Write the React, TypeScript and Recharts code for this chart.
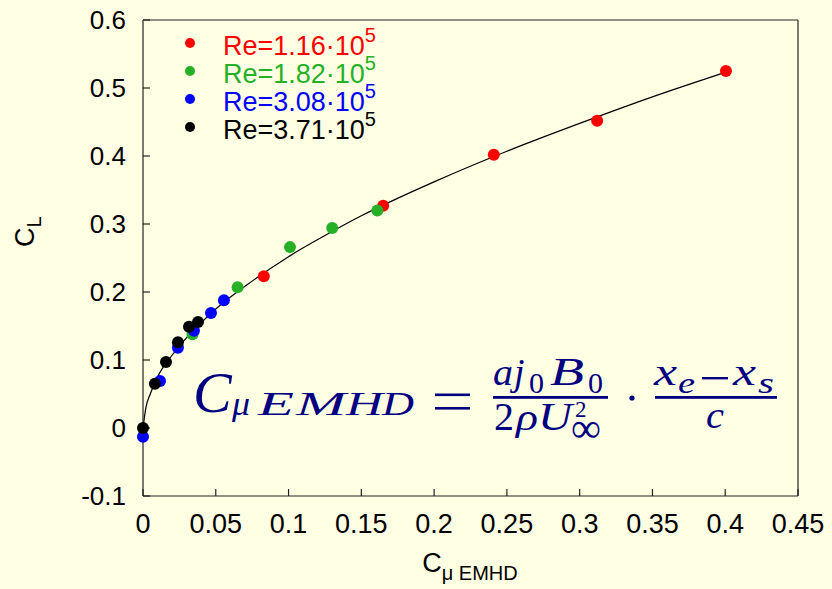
import {
  ComposedChart,
  Scatter,
  Line,
  XAxis,
  YAxis,
  Legend,
} from 'recharts'

// values
const RED_X = [0.083, 0.165, 0.241, 0.312, 0.4005]
const RED_Y = [0.223, 0.327, 0.402, 0.452, 0.525]
const GREEN_X = [0.034, 0.065, 0.101, 0.13, 0.161]
const GREEN_Y = [0.138, 0.207, 0.266, 0.294, 0.32]
const BLUE_X = [0, 0.0117, 0.024, 0.035, 0.0467, 0.0556]
const BLUE_Y = [-0.013, 0.069, 0.118, 0.143, 0.169, 0.188]
const BLACK_X = [0, 0.0082, 0.0158, 0.024, 0.0316, 0.0378]
const BLACK_Y = [0, 0.065, 0.097, 0.126, 0.149, 0.156]

// fitted curve
const CURVE_X = [0, 0.002, 0.005, 0.01, 0.02, 0.03, 0.04, 0.05, 0.075, 0.1, 0.125, 0.15, 0.2, 0.25, 0.3, 0.35, 0.4]
const CURVE_Y = [0, 0.03, 0.05, 0.075, 0.107, 0.133, 0.155, 0.175, 0.216, 0.252, 0.283, 0.312, 0.362, 0.407, 0.448, 0.487, 0.523]

const X_TICKS = [0, 0.05, 0.1, 0.15, 0.2, 0.25, 0.3, 0.35, 0.4, 0.45]
const Y_TICKS = [-0.1, 0, 0.1, 0.2, 0.3, 0.4, 0.5, 0.6]

const SERIES_LABELS = ['Re=1.16·10', 'Re=1.82·10', 'Re=3.08·10', 'Re=3.71·10']
const SERIES_COLORS = ['#ff0000', '#26b026', '#0000ff', '#000000']

const BG = '#ffffe4'
const NAVY = '#000080'
const SANS = '"Liberation Sans", Arial, sans-serif'
const SERIF = '"Liberation Serif", "Times New Roman", serif'

const zip = (xs: number[], ys: number[]) => xs.map((x, i) => ({ x, y: ys[i] }))

const series = [
  zip(RED_X, RED_Y),
  zip(GREEN_X, GREEN_Y),
  zip(BLUE_X, BLUE_Y),
  zip(BLACK_X, BLACK_Y),
]
const curve = zip(CURVE_X, CURVE_Y)

const dot = (color: string) => (p: any) => <circle cx={p.cx} cy={p.cy} r={6} fill={color} />

function LegendBox() {
  return (
    <svg width={260} height={130}>
      {SERIES_LABELS.map((lab, i) => (
        <g key={lab}>
          <circle cx={20} cy={23 + 28 * i} r={5} fill={SERIES_COLORS[i]} />
          <text x={53} y={35 + 28 * i} fontFamily={SANS} fontSize={27} fill={SERIES_COLORS[i]}>
            {lab}
            <tspan dy={-13} fontSize={20}>5</tspan>
          </text>
        </g>
      ))}
    </svg>
  )
}

// subscript letters of the formula: [glyph, x, width]
const SUB_LETTERS: [string, number, number][] = [
  ['μ', 232, 18],
  ['E', 258, 36],
  ['M', 296, 50],
  ['H', 346, 37],
  ['D', 382, 32],
]

function Formula() {
  const it = { fontFamily: SERIF, fontStyle: 'italic', fill: NAVY }
  const up = { fontFamily: SERIF, fill: NAVY }
  return (
    <svg width={832} height={589} style={{ position: 'absolute', left: 0, top: 0, pointerEvents: 'none' }}>
      <text x={193} y={412} fontSize={58} {...it}>C</text>
      {SUB_LETTERS.map(([g, x, w]) => (
        <text key={g} x={x} y={415} fontSize={33} textLength={w} lengthAdjust="spacingAndGlyphs" {...it}>{g}</text>
      ))}
      <rect x={435} y={393.5} width={35} height={2.6} fill={NAVY} />
      <rect x={435} y={407} width={35} height={2.6} fill={NAVY} />

      <text x={493} y={385} fontSize={38} textLength={20} lengthAdjust="spacingAndGlyphs" {...it}>a</text>
      <text x={514} y={385} fontSize={38} {...it}>j</text>
      <text x={529} y={393} fontSize={30} {...up}>0</text>
      <text x={550} y={385} fontSize={40} textLength={34} lengthAdjust="spacingAndGlyphs" {...it}>B</text>
      <text x={588} y={393} fontSize={30} {...up}>0</text>
      <rect x={493} y={396} width={115} height={2.8} fill={NAVY} />
      <text x={494} y={430} fontSize={40} {...up}>2</text>
      <text x={516} y={430} fontSize={38} textLength={22} lengthAdjust="spacingAndGlyphs" {...it}>ρ</text>
      <text x={538} y={430} fontSize={40} textLength={34} lengthAdjust="spacingAndGlyphs" {...it}>U</text>
      <text {...up}>
        <tspan x={575} y={417} fontSize={23}>2</tspan>
        <tspan x={571} y={442} fontSize={42}>∞</tspan>
      </text>

      <circle cx={632} cy={398} r={2.6} fill={NAVY} />

      <text x={654} y={385} fontSize={38} textLength={23} lengthAdjust="spacingAndGlyphs" {...it}>x</text>
      <text x={678} y={393} fontSize={30} textLength={17} lengthAdjust="spacingAndGlyphs" {...it}>e</text>
      <rect x={702} y={377} width={26} height={2.4} fill={NAVY} />
      <text x={733} y={385} fontSize={38} textLength={23} lengthAdjust="spacingAndGlyphs" {...it}>x</text>
      <text x={758} y={393} fontSize={30} textLength={16} lengthAdjust="spacingAndGlyphs" {...it}>s</text>
      <rect x={655} y={396} width={122} height={2.8} fill={NAVY} />
      <text x={706} y={428} fontSize={38} textLength={18} lengthAdjust="spacingAndGlyphs" {...it}>c</text>
    </svg>
  )
}

const blank = () => ''

export default function App() {
  const axisLine = { stroke: '#222', strokeWidth: 1.2 }
  const tickLine = { stroke: '#222', strokeWidth: 1.2 }
  return (
    <div style={{ position: 'absolute', left: 0, top: 0, width: 832, height: 589, background: BG }}>
      <ComposedChart width={832} height={589} margin={{ top: 0, right: 0, bottom: 0, left: 0 }}>
        <XAxis
          type="number"
          dataKey="x"
          domain={[0, 0.45]}
          ticks={X_TICKS}
          height={93}
          tickSize={-7}
          tickMargin={25}
          axisLine={axisLine}
          tickLine={tickLine}
          tick={{ fontFamily: SANS, fontSize: 27, fill: '#000' }}
          label={() => (
            <text x={470} y={572} textAnchor="middle" fontFamily={SANS} fontSize={27} fill="#000">
              C<tspan dy={8} fontSize={20}>μ EMHD</tspan>
            </text>
          )}
        />
        <XAxis
          xAxisId="top"
          orientation="top"
          type="number"
          domain={[0, 0.45]}
          ticks={X_TICKS}
          height={20}
          tickSize={-7}
          axisLine={axisLine}
          tickLine={tickLine}
          tickFormatter={blank}
        />
        <YAxis
          type="number"
          dataKey="y"
          domain={[-0.1, 0.6]}
          ticks={Y_TICKS}
          width={143}
          tickSize={-7}
          tickMargin={24}
          axisLine={axisLine}
          tickLine={tickLine}
          tick={{ fontFamily: SANS, fontSize: 26, fill: '#000' }}
          label={() => (
            <text x={34} y={247} transform="rotate(-90, 34, 247)" fontFamily={SANS} fontSize={27} fill="#000">
              C<tspan dy={7} fontSize={20}>L</tspan>
            </text>
          )}
        />
        <YAxis
          yAxisId="right"
          orientation="right"
          type="number"
          domain={[-0.1, 0.6]}
          ticks={Y_TICKS}
          width={34}
          tickSize={-7}
          axisLine={axisLine}
          tickLine={tickLine}
          tickFormatter={blank}
        />
        <Legend
          layout="vertical"
          verticalAlign="middle"
          align="center"
          wrapperStyle={{ left: 170, top: 20, width: 260, height: 130 }}
          content={() => <LegendBox />}
        />
        {series.map((d, i) => (
          <Scatter
            key={SERIES_LABELS[i]}
            data={d}
            fill={SERIES_COLORS[i]}
            shape={dot(SERIES_COLORS[i])}
            isAnimationActive={false}
          />
        ))}
        <Line
          data={curve}
          dataKey="y"
          type="monotone"
          stroke="#000"
          strokeWidth={1.2}
          dot={false}
          activeDot={false}
          isAnimationActive={false}
        />
      </ComposedChart>
      <Formula />
    </div>
  )
}
